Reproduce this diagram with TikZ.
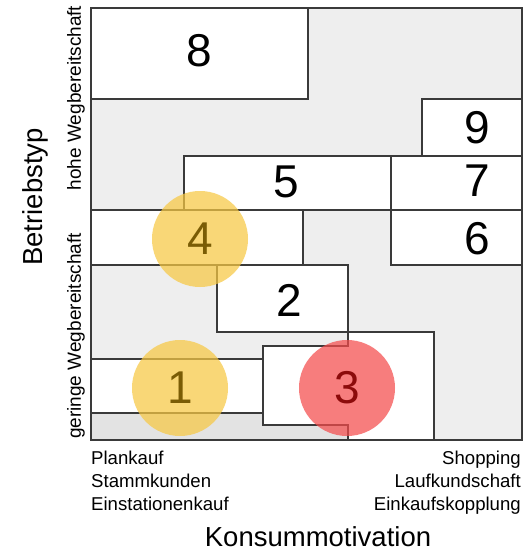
\documentclass[tikz,border=0pt]{standalone}
\usepackage{fontspec}
\setmainfont{Liberation Sans}
\usepackage{xcolor}
\usetikzlibrary{positioning}
\definecolor{cLine}{HTML}{3A3A3A}
\definecolor{cBack}{HTML}{EEEEEE}
\definecolor{cStrip}{HTML}{E3E3E3}
\definecolor{cGold}{HTML}{F7C843}
\definecolor{cGoldInk}{HTML}{7A5C05}
\definecolor{cRed}{HTML}{F44C4C}
\definecolor{cRedInk}{HTML}{8C0B0B}
\tikzset{
  tbox/.style={draw=cLine,fill=white,line width=1.2pt},
  num/.style={font=\fontsize{46}{46}\selectfont,inner sep=0pt,text=black},
  dot/.style={circle,minimum size=96pt,inner sep=0pt,fill=#1,fill opacity=0.72,text opacity=1,font=\fontsize{46}{46}\selectfont},
  axlbl/.style={font=\fontsize{27.5}{30}\selectfont,inner sep=0pt},
  sidelbl/.style={font=\fontsize{19}{22}\selectfont,inner sep=0pt},
  endlbl/.style={font=\fontsize{18.6}{23}\selectfont,inner sep=0pt},
}
\begin{document}
\begin{tikzpicture}[x=1pt,y=-1pt]
  \useasboundingbox (0,0) rectangle (527,552);
  % field
  \fill[cBack] (91,8) rectangle (522,440);
  \fill[cStrip] (91,413) rectangle (348,440);
  % boxes
  \draw[tbox] (91,8) rectangle (308,99);
  \draw[tbox] (422,99) rectangle (522,156);
  \draw[tbox] (184,156) rectangle (391,210);
  \draw[tbox] (391,156) rectangle (522,210);
  \draw[tbox] (91,210) rectangle (303,265);
  \draw[tbox] (391,210) rectangle (522,265);
  \draw[tbox] (217,265) rectangle (348,332);
  \draw[tbox] (91,359) rectangle (263,413);
  \draw[tbox] (263,346) -- (348,346) -- (348,332) -- (434,332) -- (434,440) -- (348,440) -- (348,425) -- (263,425) -- cycle;
  \draw[cLine,line width=1.2pt] (91,8) rectangle (522,440);
  % numbers
  \node[num] (n8) at (199,51) {8};
  \node[num] (n9) at (477,128) {9};
  \node[num] (n5) at (286,182) {5};
  \node[num] (n7) at (477,181) {7};
  \node[num] (n6) at (477,239) {6};
  \node[num] (n2) at (289,300) {2};
  \node[dot=cGold,text=cGoldInk] (c4) at (200,239) {4};
  \node[dot=cGold,text=cGoldInk] (c1) at (180,388) {1};
  \node[dot=cRed,text=cRedInk] (c3) at (347,388) {3};
  % axes
  \node[axlbl,rotate=90] (ytitle) at (35,197) {Betriebstyp};
  \node[sidelbl,rotate=90] (yhi) at (76,98) {hohe Wegbereitschaft};
  \node[sidelbl,rotate=90] (ylo) at (76,336) {geringe Wegbereitschaft};
  \node[axlbl] (xtitle) at (318,537) {Konsummotivation};
  \node[endlbl,anchor=base west] (lo1) at (91,464.5) {Plankauf};
  \node[endlbl,anchor=base west] (lo2) at (91,487.5) {Stammkunden};
  \node[endlbl,anchor=base west] (lo3) at (91,510.5) {Einstationenkauf};
  \node[endlbl,anchor=base east] (hi1) at (521,464.5) {Shopping};
  \node[endlbl,anchor=base east] (hi2) at (521,487.5) {Laufkundschaft};
  \node[endlbl,anchor=base east] (hi3) at (521,510.5) {Einkaufskopplung};
\end{tikzpicture}
\end{document}
